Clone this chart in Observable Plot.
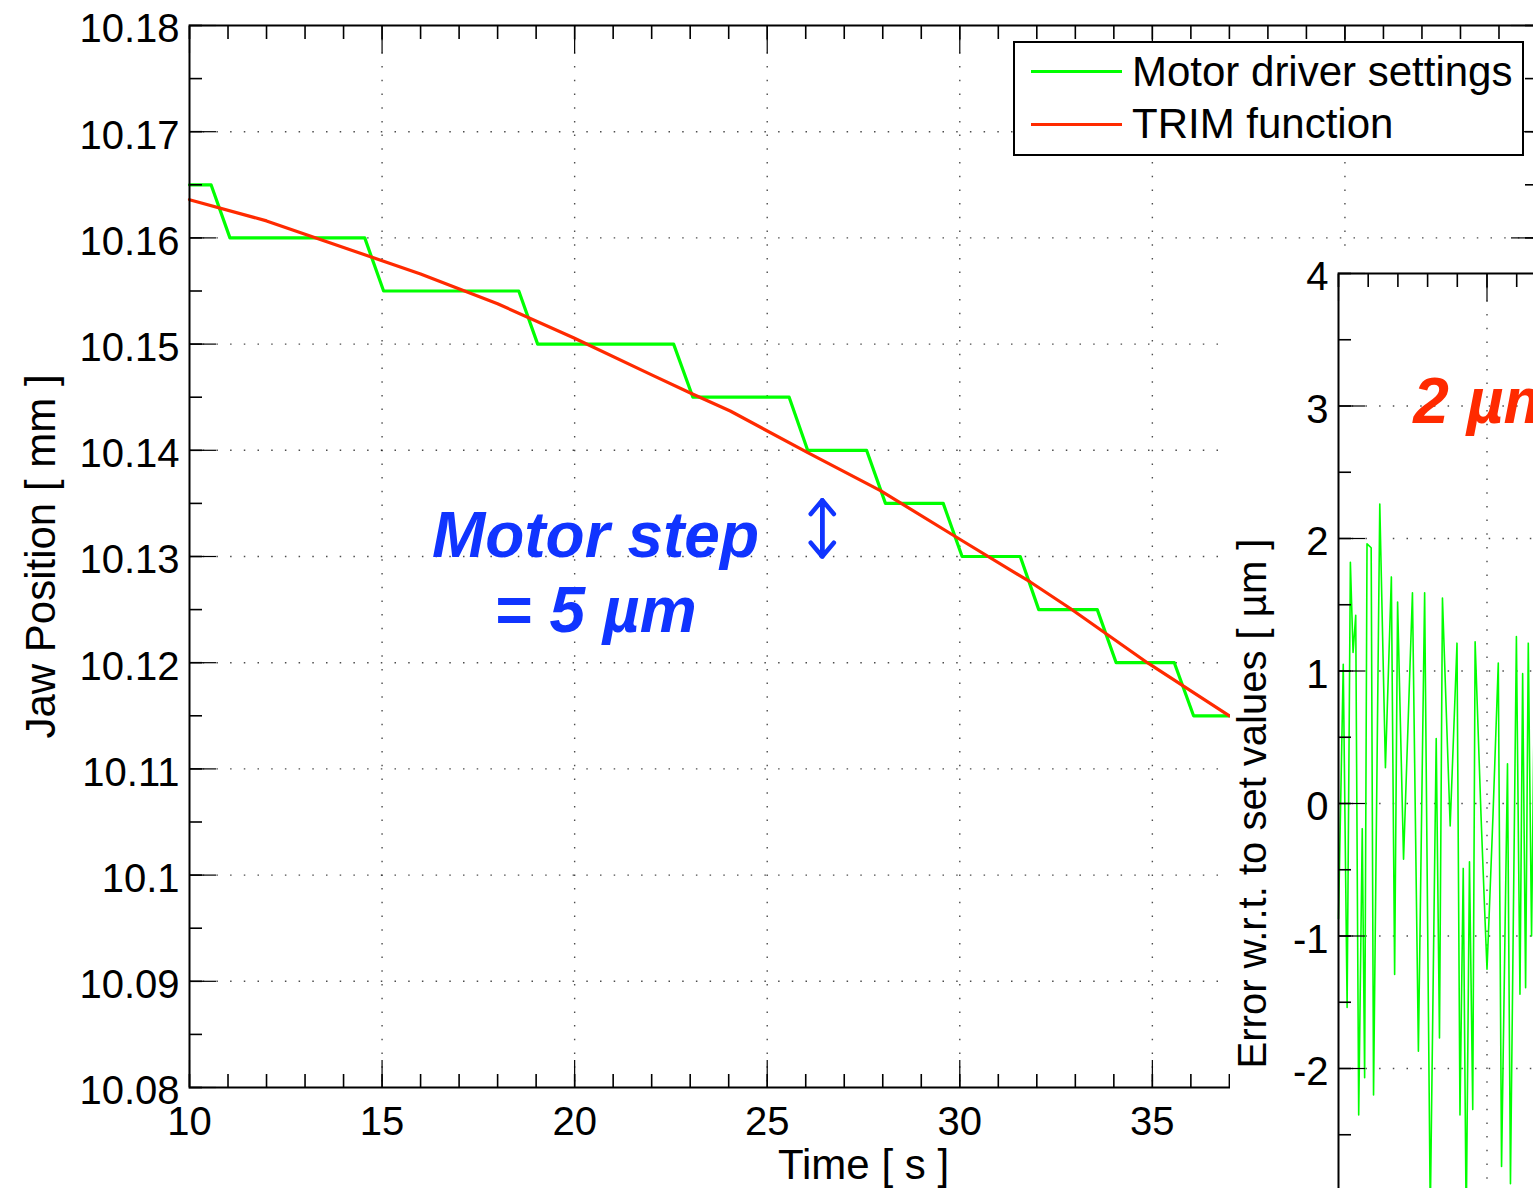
<!DOCTYPE html>
<html><head><meta charset="utf-8">
<script src="https://cdn.jsdelivr.net/npm/d3@7"></script>
<script src="https://cdn.jsdelivr.net/npm/@observablehq/plot@0.6"></script>
<style>
html,body{margin:0;padding:0;background:#fff;}
#wrap{position:relative;width:1533px;height:1188px;overflow:hidden;background:#fff;font-family:"Liberation Sans",Arial,Helvetica,sans-serif;}
#wrap svg{position:absolute;max-width:none !important;}
.legend{position:absolute;left:1013px;top:41px;width:511px;height:115px;box-sizing:border-box;border:2px solid #000;background:#fff;}
.sw{position:absolute;left:16px;width:91px;height:3px;}
.lt{position:absolute;left:117px;font-size:42px;line-height:1;white-space:nowrap;color:#000;}
</style></head><body><div id="wrap"></div>
<script>
const FONT = '"Liberation Sans", Arial, Helvetica, sans-serif';

// ---- main chart data ----
const motorT = [10, 10.56, 11.05, 14.55, 15.04, 18.55, 19.04, 22.57, 23.07, 25.57, 26.05, 27.58, 28.07, 29.57, 30.06, 31.57, 32.05, 33.57, 34.06, 35.57, 36.07, 37];
const motorV = [10.165, 10.165, 10.16, 10.16, 10.155, 10.155, 10.15, 10.15, 10.145, 10.145, 10.14, 10.14, 10.135, 10.135, 10.13, 10.13, 10.125, 10.125, 10.12, 10.12, 10.115, 10.115];
const trimT = [10, 12, 14, 16, 18, 19.97, 22, 23.06, 24.04, 26.04, 27.94, 29.83, 31.83, 32.87, 34.87, 37];
const trimV = [10.1636, 10.1616, 10.1591, 10.1566, 10.1538, 10.1506, 10.1471, 10.1453, 10.1437, 10.1398, 10.1362, 10.1320, 10.1276, 10.1251, 10.1200, 10.1150];

const xMajor = [10, 15, 20, 25, 30, 35, 40, 45];
const xLabels = [10, 15, 20, 25, 30, 35, 40];
const xMinor = d3.range(10, 46, 1);
const yMajor = [10.08, 10.09, 10.1, 10.11, 10.12, 10.13, 10.14, 10.15, 10.16, 10.17, 10.18];
const yMinor = d3.range(0, 21).map(i => 10.08 + i * 0.005);

const legendLabels = ["Motor driver settings", "TRIM function"];
const legendColors = ["#00ff00", "#ff2a00"];

const noteText = ["Motor step", "= 5 µm"];
const noteX = [20.54, 20.54];
const noteY = [10.1319, 10.1248];
const stepArrow = {x: 26.43, y1: 10.13, y2: 10.1353};

// ---- inset data ----
const errT = [10.00, 10.16, 10.29, 10.40, 10.49, 10.58, 10.68, 10.80, 10.88, 10.96, 11.10, 11.18, 11.39, 11.58, 11.78, 11.89, 11.99, 12.19, 12.49, 12.69, 12.90, 13.09, 13.29, 13.40, 13.50, 13.76, 13.99, 14.09, 14.20, 14.30, 14.41, 14.52, 14.60, 14.80, 14.92, 15.00, 15.08, 15.20, 15.38, 15.49, 15.69, 15.79, 15.99, 16.11, 16.20, 16.30, 16.39, 16.50, 16.61, 16.71];
const errV = [-0.87, 1.05, -1.54, 1.82, 1.14, 1.42, -2.35, -0.19, -2.07, 1.96, 1.93, -2.2, 2.26, 0.27, 1.71, -1.29, 1.52, -0.42, 1.59, -1.87, 1.59, -3.1, 0.49, -1.77, 1.55, -0.17, 1.21, -2.35, -0.49, -3.2, -0.44, -2.31, 1.22, -0.1, -0.8, -1.25, -0.8, -0.1, 1.06, -2.74, 0.30, -2.87, 1.26, -1.44, 0.98, -1.39, 1.21, -1.0, 1.1, -2.0];
const insetXMinor = d3.range(10, 31, 1);
const insetXMajor = [10, 15, 20, 25, 30];
const insetYTicks = [-4, -3, -2, -1, 0, 1, 2, 3, 4];
const insetYMinor = d3.range(-4, 4.01, 0.5);
const insetNote = {x: 12.52, y: 3.03, text: "2 µm"};
const insetLabel = "Error w.r.t. to set values [ µm ]";

const motor = motorT.map((t, i) => ({t, v: motorV[i]}));
const trim = trimT.map((t, i) => ({t, v: trimV[i]}));
const err = errT.map((t, i) => ({t, v: errV[i]}));

const grid = {stroke: "#000", strokeOpacity: 0.7, strokeWidth: 1.4, strokeDasharray: "1.5,12.2"};
const tk = {fill: "none", stroke: "#000", strokeWidth: 1.6};
const tkM = {fill: "none", stroke: "#000", strokeWidth: 1.2};

const main = Plot.plot({
  width: 1540, height: 1188,
  marginLeft: 189, marginRight: 3, marginTop: 25, marginBottom: 101,
  x: {domain: [10, 45]},
  y: {domain: [10.08, 10.18]},
  style: {fontFamily: FONT, fontSize: "40px", background: "transparent", color: "#000", maxWidth: "none"},
  marks: [
    Plot.gridX(xMajor.slice(1, -1), grid),
    Plot.gridY(yMajor.slice(1, -1), grid),
    Plot.line(motor, {x: "t", y: "v", stroke: legendColors[0], strokeWidth: 3.2}),
    Plot.line(trim, {x: "t", y: "v", stroke: legendColors[1], strokeWidth: 3.2}),
    Plot.text(noteText, {x: (d, i) => noteX[i], y: (d, i) => noteY[i], text: d => d, fill: "#1034ff", fontSize: 64, fontWeight: "bold", fontStyle: "italic"}),
    Plot.arrow([stepArrow], {x1: "x", x2: "x", y1: "y1", y2: "y2", stroke: "#1034ff", strokeWidth: 4.5, headAngle: 80, headLength: 6}),
    Plot.arrow([stepArrow], {x1: "x", x2: "x", y1: "y2", y2: "y1", stroke: "#1034ff", strokeWidth: 4.5, headAngle: 80, headLength: 6}),
    Plot.axisX(xMinor, {anchor: "bottom", tickSize: -13, ...tk}),
    Plot.axisX(xMajor, {anchor: "bottom", tickSize: -27, ...tkM}),
    Plot.axisX(xMinor, {anchor: "top", tickSize: -13, ...tk}),
    Plot.axisX(xMajor, {anchor: "top", tickSize: -27, ...tkM}),
    Plot.axisY(yMinor, {anchor: "left", tickSize: -13, ...tk}),
    Plot.axisY(yMajor, {anchor: "left", tickSize: -27, ...tkM}),
    Plot.axisY(yMinor, {anchor: "right", tickSize: -13, ...tk}),
    Plot.axisY(yMajor, {anchor: "right", tickSize: -27, ...tkM}),
    Plot.axisX(xLabels, {anchor: "bottom", tickSize: 0, tickPadding: 19, label: null, tickFormat: d => String(d), fill: "#000"}),
    Plot.axisY(yMajor, {anchor: "left", tickSize: 0, tickPadding: 10, dy: 4, label: null, tickFormat: d => String(+d.toFixed(3)), fill: "#000"}),
    Plot.text(["Time [ s ]"], {frameAnchor: "bottom", lineAnchor: "middle", textAnchor: "middle", dy: 78, fontSize: 42, fill: "#000"}),
    Plot.text(["Jaw Position [ mm ]"], {frameAnchor: "left", lineAnchor: "middle", textAnchor: "middle", dx: -148, rotate: -90, fontSize: 42, fill: "#000"}),
    Plot.frame({stroke: "#000", strokeWidth: 2})
  ]
});
main.style.left = "0px"; main.style.top = "0px";

const inset = Plot.plot({
  width: 722, height: 1155,
  marginLeft: 108, marginRight: 20, marginTop: 15, marginBottom: 80,
  x: {domain: [10, 30]},
  y: {domain: [-4, 4]},
  style: {fontFamily: FONT, fontSize: "40px", background: "#fff", color: "#000", maxWidth: "none"},
  marks: [
    Plot.gridX(insetXMajor.slice(1, -1), grid),
    Plot.gridY(insetYTicks.slice(1, -1), grid),
    Plot.line(err, {x: "t", y: "v", stroke: "#00ff00", strokeWidth: 1.6}),
    Plot.text([insetNote], {x: "x", y: "y", text: "text", textAnchor: "start", fill: "#ff2a00", fontSize: 64, fontWeight: "bold", fontStyle: "italic"}),
    Plot.axisX(insetXMinor, {anchor: "top", tickSize: -13, ...tk}),
    Plot.axisX(insetXMajor, {anchor: "top", tickSize: -27, ...tkM}),
    Plot.axisX(insetXMinor, {anchor: "bottom", tickSize: -13, ...tk}),
    Plot.axisY(insetYMinor, {anchor: "left", tickSize: -13, ...tk}),
    Plot.axisY(insetYTicks, {anchor: "left", tickSize: -27, ...tkM}),
    Plot.axisY(insetYTicks, {anchor: "left", tickSize: 0, tickPadding: 10, dy: 4, label: null, tickFormat: d => String(d), fill: "#000"}),
    Plot.text([insetLabel], {frameAnchor: "left", lineAnchor: "middle", textAnchor: "middle", dx: -85, rotate: -90, fontSize: 40, fill: "#000"}),
    Plot.frame({stroke: "#000", strokeWidth: 2})
  ]
});
inset.style.left = "1230px"; inset.style.top = "258px";

const wrap = document.getElementById("wrap");
wrap.appendChild(main);
wrap.appendChild(inset);

const legend = document.createElement("div");
legend.className = "legend";
const swTops = [26.5, 79.5];
const txtTops = [8, 60];
legendLabels.forEach((lab, i) => {
  const sw = document.createElement("div");
  sw.className = "sw"; sw.style.top = swTops[i] + "px"; sw.style.background = legendColors[i];
  legend.appendChild(sw);
  const t = document.createElement("div");
  t.className = "lt"; t.style.top = txtTops[i] + "px"; t.textContent = lab;
  legend.appendChild(t);
});
wrap.appendChild(legend);
</script></body></html>
